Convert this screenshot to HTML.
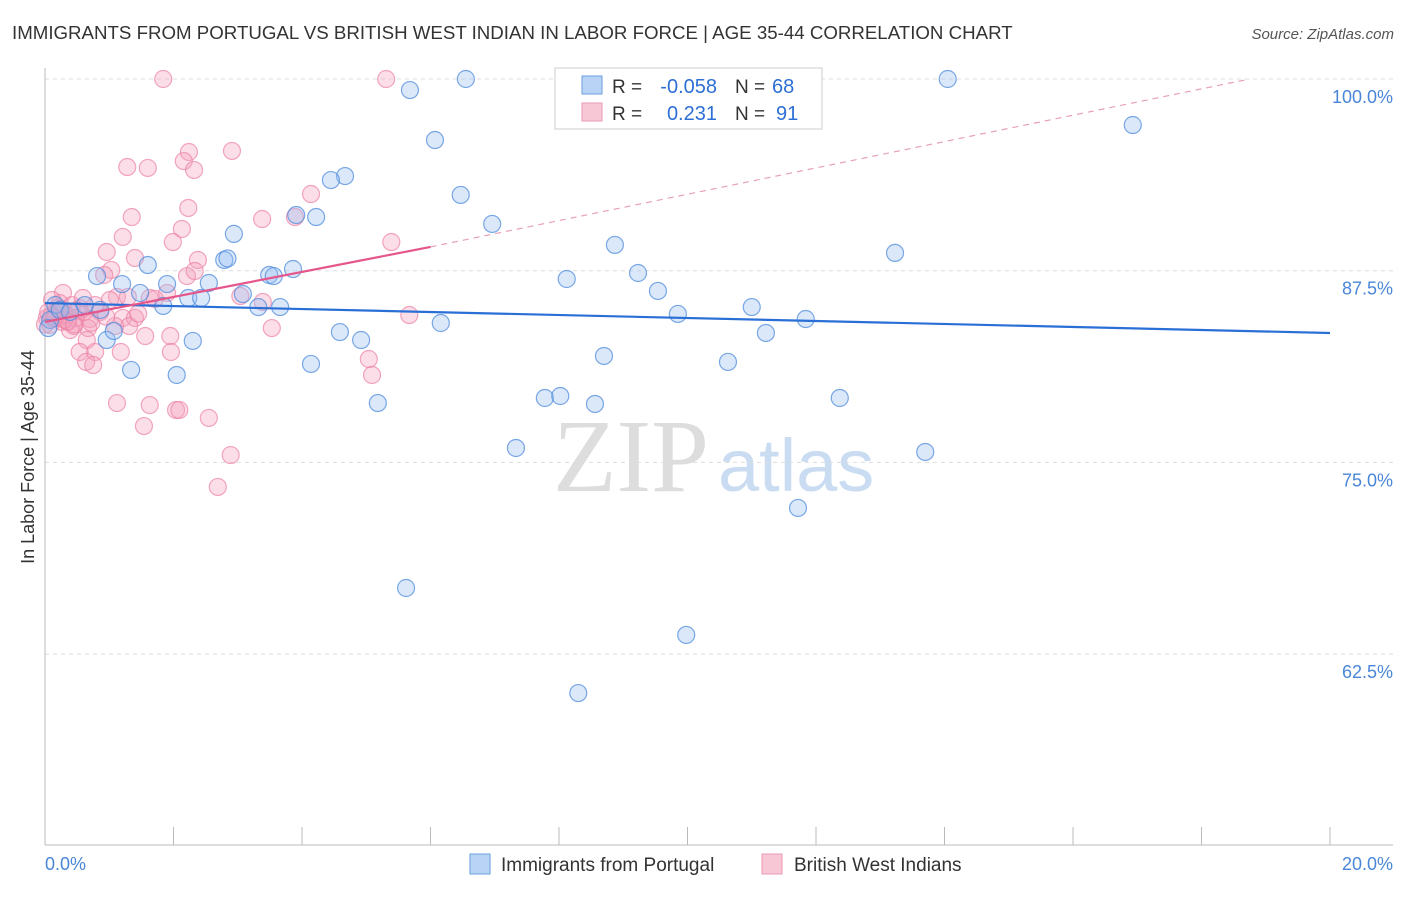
<!DOCTYPE html>
<html><head><meta charset="utf-8"><style>
body{margin:0;background:#fff;font-family:"Liberation Sans",sans-serif;}
</style></head><body>
<svg id="chart" width="1406" height="892" xmlns="http://www.w3.org/2000/svg" font-family="Liberation Sans, sans-serif">
<text x="12" y="39" font-size="18.7" fill="#333">IMMIGRANTS FROM PORTUGAL VS BRITISH WEST INDIAN IN LABOR FORCE | AGE 35-44 CORRELATION CHART</text>
<text x="1394" y="39" font-size="15" fill="#555" text-anchor="end" font-style="italic">Source: ZipAtlas.com</text>
<text x="553" y="491" font-size="104" fill="#ddd" font-family="Liberation Serif, serif">ZIP</text>
<text x="718" y="491" font-size="74" fill="#c9dcf2">atlas</text>
<g id="grid"></g><g id="axes"></g><g id="pts"></g><g id="lines"></g>
<text transform="translate(34,457) rotate(-90)" font-size="18" fill="#333" text-anchor="middle">In Labor Force | Age 35-44</text>
<g>
<rect x="555" y="68" width="267" height="61" fill="#fff" stroke="#ccc"/>
<rect x="582" y="76" width="20" height="18" fill="#b8d3f5" stroke="#6a9fe0"/>
<rect x="582" y="103" width="20" height="18" fill="#f8c7d6" stroke="#ec98b3"/>
<text x="612" y="93" font-size="19" fill="#333">R =</text>
<text x="717" y="93" font-size="20" fill="#2d6fd4" text-anchor="end">-0.058</text>
<text x="735" y="93" font-size="19" fill="#333">N =</text>
<text x="772" y="93" font-size="20" fill="#2d6fd4">68</text>
<text x="612" y="120" font-size="19" fill="#333">R =</text>
<text x="717" y="120" font-size="20" fill="#2d6fd4" text-anchor="end">0.231</text>
<text x="735" y="120" font-size="19" fill="#333">N =</text>
<text x="776" y="120" font-size="20" fill="#2d6fd4">91</text>
</g>
<g>
<rect x="470" y="854" width="20" height="20" fill="#b8d3f5" stroke="#6a9fe0"/>
<text x="501" y="871" font-size="19" fill="#333">Immigrants from Portugal</text>
<rect x="762" y="854" width="20" height="20" fill="#f8c7d6" stroke="#ec98b3"/>
<text x="794" y="871" font-size="19" fill="#333">British West Indians</text>
</g>
</svg>
<script>
const blueX=[6.55,5.68,9.11,14.05,16.93,6.07,6.47,4.67,4.45,3.91,4.22,6.96,2.94,8.87,13.23,2.79,1.60,3.86,3.49,3.56,0.81,8.12,9.23,2.55,9.54,1.90,1.20,1.48,2.23,2.43,3.08,3.32,3.66,1.84,0.62,0.16,11.0,11.84,9.85,6.16,11.22,4.59,4.92,2.30,0.96,1.07,8.70,10.63,4.14,1.34,2.05,5.18,7.78,8.02,8.56,12.37,7.33,13.70,11.72,5.62,9.98,8.30,0.08,0.23,0.39,0.05,0.86,2.84];
const blueY=[100,99.28,100,100,97.0,96.02,92.44,93.67,93.41,91.13,91.0,90.55,89.9,89.18,88.66,88.2,87.87,87.61,87.22,87.15,87.15,86.96,87.35,86.70,86.18,86.63,86.63,86.05,85.72,85.72,85.98,85.13,85.13,85.20,85.26,85.26,85.13,84.35,84.68,84.09,83.44,83.50,82.98,82.92,82.98,83.57,81.94,81.55,81.42,81.03,80.70,78.87,79.20,79.33,78.81,79.20,75.94,75.68,72.03,66.81,63.75,59.96,84.29,84.94,84.81,83.76,84.94,88.3];
const pinkX=[1.84,5.31,2.91,2.24,1.28,1.60,2.16,2.32,4.14,2.23,1.35,3.38,3.89,2.13,1.21,1.99,5.39,0.96,1.40,2.38,1.03,2.21,2.33,0.92,0.28,1.12,1.29,1.63,1.71,1.90,3.04,3.39,0.23,0.54,0.86,0.16,0.03,0.36,0.70,1.21,1.40,5.67,3.53,0.67,0.45,1.31,1.09,1.56,1.95,0.65,0.54,0.78,1.18,1.96,5.04,5.09,0.64,0.75,1.12,1.63,2.04,2.09,2.55,1.54,2.89,2.69,0.08,0.17,0.26,0.42,0.20,0.33,0.48,0.61,0.11,0.39,0.78,1.01,0.59,0.0,0.30,0.50,0.10,0.72,0.95,1.45,0.25,0.35,0.05,0.14,0.45];
const pinkY=[100,100,95.31,95.24,94.26,94.20,94.65,94.07,92.50,91.59,91.0,90.87,91.0,90.22,89.70,89.37,89.37,88.72,88.33,88.20,87.55,87.15,87.48,87.22,86.05,85.79,85.79,85.72,85.66,86.05,85.85,85.46,85.39,85.07,84.81,84.74,84.42,84.16,84.35,84.42,84.42,84.61,83.76,83.76,83.89,83.89,83.89,83.24,83.24,82.98,82.20,82.20,82.20,82.20,81.74,80.70,81.55,81.35,78.87,78.74,78.42,78.42,77.90,77.37,75.48,73.40,83.96,84.42,84.16,85.26,85.07,84.61,84.42,84.81,85.59,83.63,85.26,85.59,85.72,84.0,84.3,84.9,84.6,84.1,84.5,84.7,85.0,84.2,84.8,84.4,84.0];
const yTicks=[100,87.5,75,62.5];
const yTickLabels=["100.0%","87.5%","75.0%","62.5%"];
const blueTrend=[85.39,83.44];
const pinkTrend=[84.16,0.815];
const pinkDashEnd=[18.75,100];
const NS="http://www.w3.org/2000/svg";
const X=v=>45+v/20*1285;
const Y=v=>79+(100-v)/12.5*191.7;
function mk(tag,attrs,parent){const e=document.createElementNS(NS,tag);for(const k in attrs)e.setAttribute(k,attrs[k]);document.getElementById(parent).appendChild(e);return e;}
yTicks.forEach((t,i)=>{
 let g=mk('line',{x1:45,x2:1393,y1:Y(t),y2:Y(t),stroke:'#ddd','stroke-dasharray':'4,4'},'grid');
 
 
 let l=mk('text',{x:1393,y:Y(t)+24,'font-size':18,fill:'#4a86d8','text-anchor':'end'},'axes');
 l.textContent=yTickLabels[i];
 
 
});
let ax=mk('line',{x1:45,x2:1393,y1:845,y2:845,stroke:'#bbb'},'axes');


let ay=mk('line',{x1:45,x2:45,y1:68,y2:845,stroke:'#bbb'},'axes');


for(let i=0;i<=10;i++){let t=mk('line',{x1:X(i*2),x2:X(i*2),y1:827,y2:845,stroke:'#bbb'},'axes');
 
 }
[["0.0%",X(0),'start'],["20.0%",X(20)+63,'end']].forEach(a=>{let t=mk('text',{x:a[1],y:870,'font-size':18,fill:'#4a86d8','text-anchor':a[2]},'axes');t.textContent=a[0];
 
 });
pinkX.forEach((x,i)=>{let c=mk('circle',{cx:X(x),cy:Y(pinkY[i]),r:8.5,fill:'rgba(244,160,188,0.35)',stroke:'rgba(236,130,165,0.7)','stroke-width':1.2},'pts');
 
 });
blueX.forEach((x,i)=>{let c=mk('circle',{cx:X(x),cy:Y(blueY[i]),r:8.5,fill:'rgba(150,190,240,0.35)',stroke:'rgba(80,140,220,0.75)','stroke-width':1.2},'pts');
 
 });
let bl=mk('line',{x1:X(0),y1:Y(blueTrend[0]),x2:X(20),y2:Y(blueTrend[1]),stroke:'#2a6fd6','stroke-width':2.2},'lines');


let pd=mk('line',{x1:X(6),y1:Y(pinkTrend[0]+6*pinkTrend[1]),x2:X(pinkDashEnd[0]),y2:Y(pinkDashEnd[1]),stroke:'#e8a0b8','stroke-width':1.2,'stroke-dasharray':'6,5'},'lines');


let pl=mk('line',{x1:X(0),y1:Y(pinkTrend[0]),x2:X(6),y2:Y(pinkTrend[0]+6*pinkTrend[1]),stroke:'#e5568a','stroke-width':2.2},'lines');


</script>
</body></html>
